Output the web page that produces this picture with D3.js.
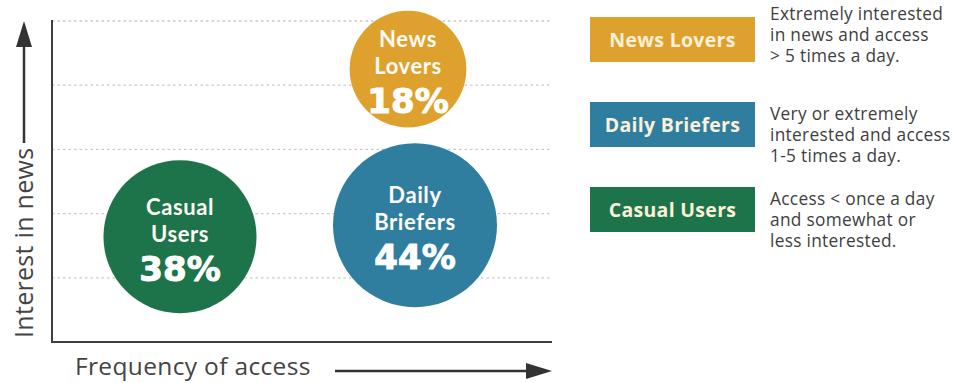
<!DOCTYPE html>
<html>
<head>
<meta charset="utf-8">
<script src="https://cdn.jsdelivr.net/npm/d3@7"></script>
<style>
  html, body { margin: 0; padding: 0; background: #fff; }
  svg { display: block; }
</style>
</head>
<body>
<svg id="chart" width="964" height="383"></svg>
<script>
// News consumer segments
const segments  = ["News Lovers", "Daily Briefers", "Casual Users"];
const shares    = [18, 44, 38];                 // % of users
const frequency = [7.12, 7.26, 2.56];           // position on frequency-of-access axis (0–10)
const interest  = [4.25, 1.82, 1.64];           // position on interest-in-news axis (0–5)
const gridLevels = [1, 2, 3, 4, 5];
const descriptions = [
  ["Extremely interested", "in news and access", "> 5 times a day."],
  ["Very or extremely", "interested and access", "1-5 times a day."],
  ["Access < once a day", "and somewhat or", "less interested."]
];
const colors = ["#dfa12d", "#2f7ea0", "#1d744b"];

const svg = d3.select("#chart");
const axisColor = "#3f3f3f";

const x = d3.scaleLinear().domain([0, 10]).range([52, 552]);
const y = d3.scaleLinear().domain([0, 5]).range([342, 21]);
const r = d3.scaleLinear().domain([0, 44]).range([42, 82]);

// dotted guide lines
svg.append("g").selectAll("line").data(gridLevels).join("line")
  .attr("x1", x(0)).attr("x2", x(10))
  .attr("y1", d => y(d)).attr("y2", d => y(d))
  .attr("stroke", "#c9c9c9").attr("stroke-width", 1.3)
  .attr("stroke-dasharray", "2.5,3");

// axes
svg.append("line").attr("x1", x(0)).attr("x2", x(0)).attr("y1", y(5) - 1).attr("y2", y(0))
  .attr("stroke", axisColor).attr("stroke-width", 2);
svg.append("line").attr("x1", x(0) - 1).attr("x2", x(10)).attr("y1", y(0)).attr("y2", y(0))
  .attr("stroke", axisColor).attr("stroke-width", 2);

// bubbles
const data = segments.map((s, i) => ({
  name: s, share: shares[i], fx: frequency[i], iy: interest[i], color: colors[i]
}));

const bubbles = svg.append("g").selectAll("g").data(data).join("g")
  .attr("transform", d => `translate(${x(d.fx)},${y(d.iy)})`);

bubbles.append("circle")
  .attr("r", d => r(d.share))
  .attr("fill", d => d.color);

// one label per bubble: two name lines and the share
bubbles.each(function(d) {
  const label = d3.select(this).append("text")
    .attr("text-anchor", "middle")
    .attr("fill", "#fdfbf6");
  const words = d.name.split(" ");
  words.forEach((w, i) => {
    label.append("tspan")
      .attr("x", 0)
      .attr("y", i === 0 ? -22 : 5)
      .attr("font-family", "Lato, 'Open Sans', sans-serif")
      .attr("font-weight", 700)
      .attr("font-size", 22)
      .attr("letter-spacing", 0.6)
      .text(w);
  });
  label.append("tspan")
    .attr("x", 0)
    .attr("y", 44)
    .attr("fill", "#fff")
    .attr("stroke", "#fff")
    .attr("stroke-width", 1)
    .attr("stroke-linejoin", "round")
    .attr("font-family", "'DejaVu Sans', sans-serif")
    .attr("font-weight", 700)
    .attr("font-size", 34)
    .text(d.share + "%");
});

// axis titles with arrows
const arrowColor = "#333";
svg.append("line").attr("x1", 24).attr("x2", 24).attr("y1", 143).attr("y2", 42)
  .attr("stroke", arrowColor).attr("stroke-width", 2.5);
svg.append("path").attr("d", "M24,21 L32,47 L16,47 Z").attr("fill", arrowColor);
svg.append("text")
  .attr("transform", "translate(33,338) rotate(-90)")
  .attr("fill", "#444")
  .attr("font-family", "'Open Sans', sans-serif")
  .attr("font-size", 25)
  .attr("letter-spacing", 0.3)
  .text("Interest in news");

svg.append("text")
  .attr("x", 75).attr("y", 375)
  .attr("fill", "#444")
  .attr("font-family", "'Open Sans', sans-serif")
  .attr("font-size", 24.5)
  .attr("letter-spacing", 0.35)
  .text("Frequency of access");
svg.append("line").attr("x1", 335).attr("x2", 530).attr("y1", 371).attr("y2", 371)
  .attr("stroke", arrowColor).attr("stroke-width", 2.5);
svg.append("path").attr("d", "M552,371 L526,363 L526,379 Z").attr("fill", arrowColor);

// legend
const descTop = [3, 18, 18];   // first description baseline below each box top
const legend = svg.append("g").selectAll("g").data(data).join("g")
  .attr("transform", (d, i) => `translate(590,${17 + i * 85})`);

legend.append("rect")
  .attr("width", 165).attr("height", 45)
  .attr("fill", d => d.color);
legend.append("text")
  .attr("x", 82.5).attr("y", 29.5)
  .attr("text-anchor", "middle")
  .attr("fill", "#fbf1d8")
  .attr("font-family", "'Open Sans', sans-serif")
  .attr("font-weight", 700)
  .attr("font-size", 19.5)
  .attr("letter-spacing", 0.3)
  .text(d => d.name);

legend.each(function(d, i) {
  d3.select(this).selectAll("text.desc").data(descriptions[i]).join("text")
    .attr("class", "desc")
    .attr("x", 180)
    .attr("y", (t, j) => descTop[i] + j * 21)
    .attr("fill", "#404040")
    .attr("font-family", "'Open Sans', sans-serif")
    .attr("font-size", 17.3)
    .attr("letter-spacing", 0.3)
    .text(t => t);
});
</script>
</body>
</html>
